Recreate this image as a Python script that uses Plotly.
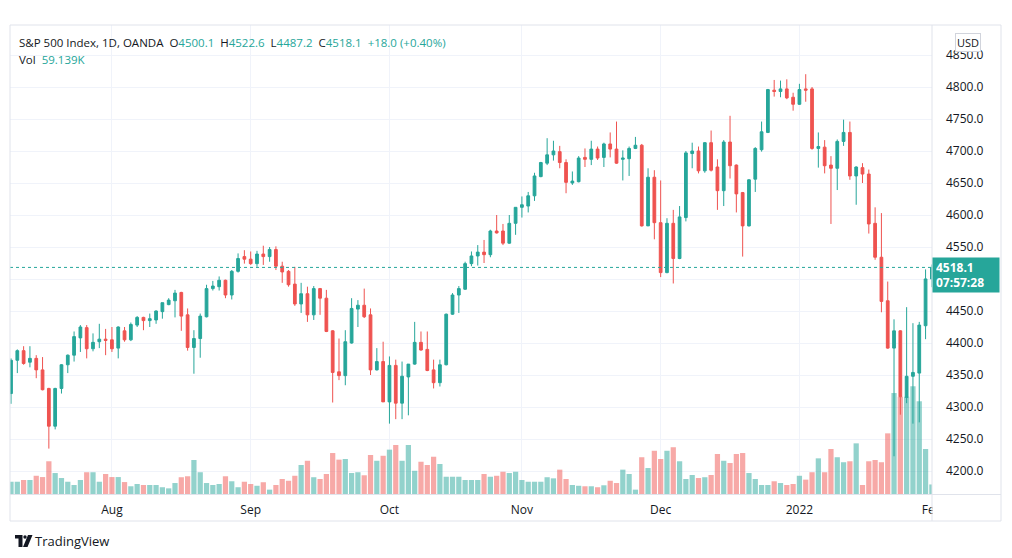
import pandas as pd
import plotly.graph_objects as go

# ---------------- data ----------------
dates = [d.strftime("%Y-%m-%d") for d in pd.bdate_range("2021-07-09", "2022-02-01")
         if d.strftime("%Y-%m-%d") != "2021-12-24"]

opens = [4321, 4373, 4388, 4370, 4376, 4358, 4329, 4270, 4329, 4366,
         4381, 4408, 4424, 4391, 4402, 4406, 4405, 4392, 4419, 4405,
         4428, 4440, 4435, 4436, 4449, 4460, 4466, 4479, 4444, 4393,
         4407, 4441, 4485, 4488, 4498, 4475, 4512, 4535, 4531, 4524,
         4539, 4535, 4546, 4520, 4512, 4492, 4461, 4477, 4444, 4485,
         4470, 4419, 4355, 4349, 4400, 4453, 4459, 4444, 4358, 4371,
         4308, 4365, 4306, 4347, 4367, 4401, 4390, 4358, 4338, 4366,
         4445, 4475, 4484, 4524, 4536, 4542, 4538, 4575, 4575, 4556,
         4587, 4612, 4614, 4630, 4660, 4681, 4694, 4699, 4682, 4650,
         4652, 4690, 4687, 4703, 4690, 4711, 4703, 4687, 4688, 4704,
         4709, 4583, 4659, 4588, 4510, 4587, 4532, 4596, 4696, 4700,
         4669, 4713, 4675, 4638, 4714, 4678, 4635, 4583, 4656, 4702,
         4729, 4795, 4793, 4797, 4784, 4773, 4797, 4797, 4704, 4706,
         4678, 4673, 4715, 4729, 4661, 4674, 4664, 4587, 4534, 4466,
         4392, 4419, 4315, 4348, 4353, 4427, 4500.1]

highs = [4376, 4390, 4395, 4395, 4381, 4378, 4330, 4330, 4367, 4382,
         4418, 4428, 4428, 4415, 4430, 4422, 4425, 4426, 4425, 4432,
         4442, 4441, 4446, 4451, 4463, 4470, 4483, 4480, 4454, 4420,
         4446, 4491, 4497, 4504, 4499, 4514, 4540, 4545, 4543, 4544,
         4552, 4550, 4551, 4527, 4514, 4519, 4494, 4488, 4489, 4486,
         4483, 4420, 4407, 4420, 4470, 4467, 4485, 4454, 4392, 4402,
         4379, 4374, 4371, 4367, 4433, 4418, 4418, 4374, 4374, 4446,
         4478, 4489, 4527, 4543, 4553, 4561, 4577, 4600, 4586, 4600,
         4612, 4629, 4636, 4666, 4683, 4720, 4716, 4708, 4687, 4668,
         4692, 4704, 4716, 4707, 4713, 4729, 4746, 4701, 4707, 4722,
         4711, 4673, 4670, 4654, 4595, 4608, 4614, 4700, 4713, 4707,
         4714, 4732, 4687, 4717, 4755, 4679, 4636, 4656, 4706, 4746,
         4797, 4811, 4810, 4812, 4791, 4805, 4820, 4800, 4729, 4717,
         4692, 4718, 4749, 4746, 4676, 4681, 4671, 4612, 4603, 4496,
         4437, 4420, 4456, 4431, 4433, 4515, 4522.6]

lows = [4305, 4353, 4366, 4362, 4345, 4326, 4235, 4265, 4321, 4353,
        4371, 4386, 4376, 4387, 4392, 4381, 4386, 4376, 4402, 4403,
        4425, 4420, 4425, 4430, 4438, 4459, 4440, 4419, 4388, 4352,
        4377, 4440, 4482, 4482, 4470, 4468, 4510, 4524, 4522, 4519,
        4522, 4527, 4514, 4494, 4488, 4458, 4447, 4433, 4436, 4444,
        4417, 4307, 4342, 4334, 4399, 4425, 4439, 4350, 4357, 4308,
        4274, 4281, 4281, 4287, 4366, 4388, 4356, 4329, 4332, 4365,
        4444, 4447, 4483, 4520, 4521, 4525, 4534, 4571, 4553, 4555,
        4569, 4596, 4604, 4622, 4659, 4678, 4685, 4673, 4634, 4647,
        4651, 4675, 4678, 4686, 4675, 4690, 4680, 4654, 4661, 4703,
        4582, 4583, 4562, 4503, 4509, 4493, 4531, 4590, 4673, 4665,
        4666, 4668, 4608, 4614, 4657, 4604, 4535, 4582, 4636, 4699,
        4728, 4785, 4784, 4781, 4763, 4772, 4777, 4702, 4674, 4665,
        4586, 4639, 4708, 4655, 4616, 4650, 4571, 4530, 4448, 4391,
        4223, 4288, 4306, 4274, 4276, 4406, 4487.2]

closes = [4373, 4388, 4368, 4376, 4358, 4327, 4270, 4329, 4366, 4381,
          4410, 4425, 4391, 4401, 4406, 4404, 4391, 4425, 4405, 4429,
          4440, 4435, 4438, 4450, 4463, 4467, 4478, 4442, 4393, 4407,
          4442, 4485, 4489, 4498, 4475, 4512, 4532, 4531, 4524, 4539,
          4535, 4546, 4520, 4511, 4491, 4461, 4477, 4444, 4485, 4470,
          4418, 4354, 4349, 4402, 4454, 4459, 4441, 4358, 4371, 4308,
          4365, 4306, 4348, 4367, 4401, 4389, 4357, 4338, 4366, 4445,
          4475, 4485, 4524, 4536, 4542, 4538, 4575, 4572, 4556, 4587,
          4612, 4616, 4630, 4661, 4682, 4694, 4700, 4682, 4651, 4653,
          4689, 4687, 4703, 4689, 4711, 4703, 4681, 4689, 4704, 4709,
          4583, 4659, 4588, 4510, 4587, 4532, 4597, 4697, 4700, 4669,
          4713, 4670, 4638, 4714, 4677, 4633, 4583, 4655, 4704, 4730,
          4796, 4793, 4797, 4783, 4773, 4796, 4795, 4704, 4707, 4677,
          4673, 4715, 4729, 4661, 4675, 4664, 4586, 4534, 4465, 4392,
          4419, 4316, 4348, 4354, 4428, 4500.1, 4518.1]

volume_k = [76, 76, 87, 87, 113, 105, 203, 130, 99, 76,
            56, 87, 135, 135, 76, 124, 105, 105, 74, 48,
            62, 56, 56, 56, 42, 35, 68, 104, 110, 211,
            135, 68, 56, 62, 110, 79, 42, 76, 62, 51,
            73, 27, 56, 93, 82, 113, 180, 206, 104, 93,
            124, 254, 213, 217, 130, 135, 116, 242, 206, 237,
            275, 304, 206, 304, 144, 200, 180, 231, 186, 107,
            107, 107, 87, 87, 87, 124, 107, 113, 138, 130,
            138, 87, 76, 76, 76, 104, 97, 151, 93, 56,
            51, 48, 48, 42, 54, 82, 68, 151, 124, 27,
            228, 161, 268, 217, 268, 290, 203, 93, 118, 99,
            104, 118, 248, 206, 192, 248, 254, 130, 93, 56,
            56, 79, 68, 56, 62, 113, 89, 135, 221, 135,
            279, 228, 197, 203, 314, 56, 203, 211, 197, 376,
            626, 603, 603, 668, 575, 279, 59.139]

tick_dates = ["2021-08-02", "2021-09-01", "2021-10-01", "2021-11-01",
              "2021-12-01", "2022-01-03", "2022-02-01"]
tick_labels = ["Aug", "Sep", "Oct", "Nov", "Dec", "2022", "Feb"]
price_ticks = [4200, 4250, 4300, 4350, 4400, 4450, 4500, 4550, 4600,
               4650, 4700, 4750, 4800, 4850]
hidden_price_labels = [4500]   # covered by the last-price box in the reference

symbol_title = "S&amp;P 500 Index, 1D, OANDA"
countdown = "07:57:28"

# ---------------- style ----------------
UP = "#26a69a"
DOWN = "#ef5350"
UP_VOL = "rgba(38,166,154,0.5)"
DOWN_VOL = "rgba(239,83,80,0.5)"
GRID = "#f0f3fa"
FRAME = "#e0e3eb"
TEXT = "#131722"
FONT = "Open Sans"

OFF = 8                       # default page body margin
W, H = 1012 - OFF, 558 - OFF
# plot area in viewport pixels
VL, VR, VT, VB = 10, 932, 25, 494
PL, PR, PT, PB = VL - OFF, VR - OFF, VT - OFF, VB - OFF


def px(x):
    return (x - VL) / (VR - VL)


def py(y):
    return (VB - y) / (VB - VT)


# axis ranges from pixel geometry (4800 at y=87, 0.64 px per point)
y_top = 4800 + (87 - VT) / 0.64
y_bot = 4800 - (VB - 87) / 0.64
vol_max = (VB - VT) * 6.2

vol_colors = [UP_VOL if c >= o else DOWN_VOL for o, c in zip(opens, closes)]
price_text = ["" if v in hidden_price_labels else f"{v:.1f}" for v in price_ticks]

fig = go.Figure()
fig.add_trace(go.Bar(
    x=dates, y=volume_k, marker=dict(color=vol_colors, line=dict(width=0)),
    yaxis="y", hoverinfo="skip"))
fig.add_trace(go.Candlestick(
    x=dates, open=opens, high=highs, low=lows, close=closes, yaxis="y2",
    increasing=dict(line=dict(color=UP, width=1), fillcolor=UP),
    decreasing=dict(line=dict(color=DOWN, width=1), fillcolor=DOWN),
    whiskerwidth=0))

shapes = [
    dict(type="rect", xref="paper", yref="paper", x0=px(932.5), x1=px(1000.5),
         y0=py(520.5), y1=py(494.5), fillcolor="white", line=dict(width=0), layer="above"),
    dict(type="line", xref="paper", yref="y2", x0=0, x1=1, y0=closes[-1], y1=closes[-1],
         line=dict(color=UP, width=1, dash="dot"), layer="above"),
    dict(type="rect", xref="paper", yref="paper", x0=px(10), x1=px(1001),
         y0=py(521), y1=py(25), line=dict(color=FRAME, width=1), layer="above"),
    dict(type="line", xref="paper", yref="paper", x0=px(932), x1=px(932),
         y0=py(521), y1=py(25), line=dict(color=FRAME, width=1), layer="above"),
    dict(type="line", xref="paper", yref="paper", x0=px(10), x1=px(1001),
         y0=py(494.5), y1=py(494.5), line=dict(color=FRAME, width=1), layer="above"),
]


def P(x, y):
    return f"{px(x):.5f},{py(y):.5f}"


logo1 = f"M{P(15,535)} L{P(22.5,535)} L{P(22.5,547)} L{P(18.5,547)} L{P(18.5,538.5)} L{P(15,538.5)} Z"
logo2 = f"M{P(28,535)} L{P(32.5,535)} L{P(27.5,547)} L{P(23,547)} Z"
shapes += [
    dict(type="path", xref="paper", yref="paper", path=logo1, fillcolor=TEXT, line=dict(width=0)),
    dict(type="path", xref="paper", yref="paper", path=logo2, fillcolor=TEXT, line=dict(width=0)),
    dict(type="circle", xref="paper", yref="paper", x0=px(23.3), x1=px(26.7),
         y0=py(538.7), y1=py(535.3), fillcolor=TEXT, line=dict(width=0)),
]

g = f'<span style="color:{UP}">'
nb = "\u00a0\u00a0"
chg = closes[-1] - closes[-2]
pct = chg / closes[-2] * 100
header1 = (f"{symbol_title}{nb}O{g}{opens[-1]:.1f}</span>{nb}H{g}{highs[-1]:.1f}</span>"
           f"{nb}L{g}{lows[-1]:.1f}</span>{nb}C{g}{closes[-1]:.1f}</span>{nb}"
           f"{g}{chg:+.1f} ({pct:+.2f}%)</span>")
header2 = f"Vol{nb}{g}{volume_k[-1]:.3f}K</span>"

annotations = [
    dict(xref="paper", yref="paper", x=px(17), y=py(42), xanchor="left", yanchor="middle",
         text=header1, showarrow=False, font=dict(family=FONT, size=11.5, color=TEXT)),
    dict(xref="paper", yref="paper", x=px(17), y=py(59), xanchor="left", yanchor="middle",
         text=header2, showarrow=False, font=dict(family=FONT, size=11.5, color=TEXT)),
    dict(xref="paper", yref="paper", x=px(967.5), y=py(42.5), xanchor="center", yanchor="middle",
         text="USD", showarrow=False, font=dict(family=FONT, size=11, color=TEXT),
         bgcolor="white", bordercolor="#d1d4dc", borderwidth=1, borderpad=1),
    dict(xref="paper", yref="paper", x=px(932), y=py(274.5), xanchor="left", yanchor="middle",
         text=f"<b>{closes[-1]:.1f}</b><br><b>{countdown}</b>", showarrow=False, align="left",
         font=dict(family=FONT, size=12, color="white"), bgcolor=UP, borderpad=3, width=60,
         height=28),
    dict(xref="paper", yref="paper", x=px(33), y=py(541), xanchor="left", yanchor="middle",
         text="TradingView", showarrow=False, font=dict(family=FONT, size=13, color=TEXT)),
]

fig.update_layout(
    width=W, height=H,
    margin=dict(l=PL, r=W - PR, t=PT, b=H - PB),
    paper_bgcolor="white", plot_bgcolor="white",
    showlegend=False, bargap=0.17, boxgap=0.38,
    xaxis=dict(type="category", range=[-0.16, 146.02],
               tickmode="array", tickvals=tick_dates, ticktext=tick_labels,
               showgrid=True, gridcolor=GRID, gridwidth=1, zeroline=False, showline=False,
               ticks="", ticklabelstandoff=7, rangeslider=dict(visible=False),
               tickfont=dict(family=FONT, size=12, color=TEXT)),
    yaxis=dict(range=[0, vol_max], visible=False, showgrid=False, zeroline=False),
    yaxis2=dict(overlaying="y", side="right", range=[y_bot, y_top],
                tickmode="array", tickvals=price_ticks, ticktext=price_text,
                showgrid=True, gridcolor=GRID, gridwidth=1, zeroline=False, showline=False,
                ticks="", ticklabelstandoff=13,
                tickfont=dict(family=FONT, size=12, color=TEXT)),
    shapes=shapes,
    annotations=annotations,
    hovermode=False,
)

fig.write_html("out.html", config={"displayModeBar": False})
